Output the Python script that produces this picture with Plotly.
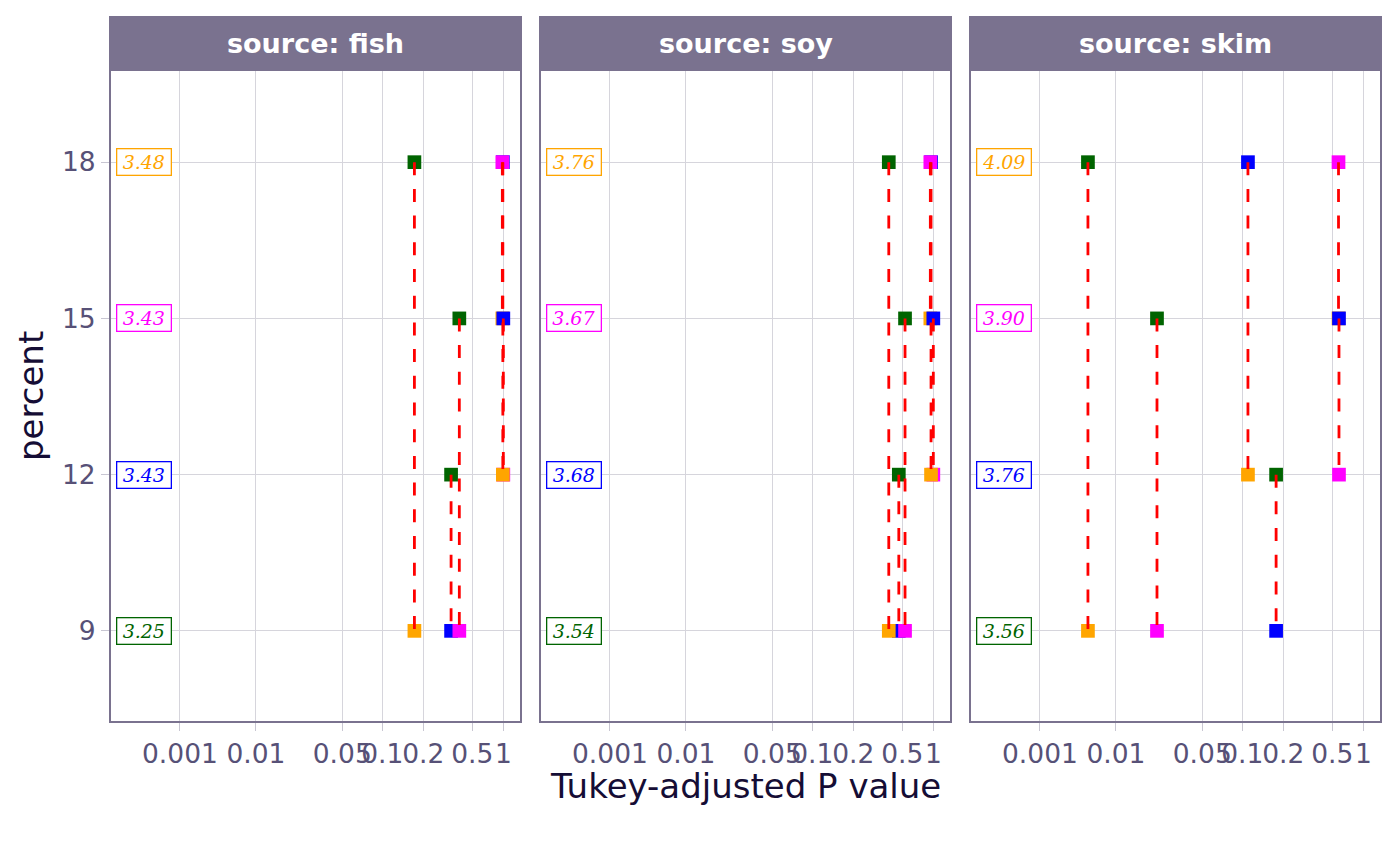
import numpy as np
import plotly.graph_objects as go

# ---------------- data ----------------
SOURCES = ["fish", "soy", "skim"]
PERCENT = [9, 12, 15, 18]
LEVEL_COLORS = ["#006400", "#0000FF", "#FF00FF", "#FFA500"]

EMMEANS_FISH = [3.25, 3.43, 3.43, 3.48]
EMMEANS_SOY = [3.54, 3.68, 3.67, 3.76]
EMMEANS_SKIM = [3.56, 3.76, 3.90, 4.09]

PAIR_FIRST = [9, 9, 9, 12, 12, 15]
PAIR_SECOND = [12, 15, 18, 15, 18, 18]

P_FISH = [0.336, 0.392, 0.172, 1.0, 0.989, 0.978]
P_SOY = [0.468, 0.531, 0.388, 1.0, 0.950, 0.935]
P_SKIM = [0.177, 0.0215, 0.00428, 0.580, 0.110, 0.574]

P_BREAKS = [0.001, 0.01, 0.05, 0.1, 0.2, 0.5, 1]
P_BREAK_LABELS = ["0.001", "0.01", "0.05", "0.1", "0.2", "0.5", "1"]
LABEL_P = 3.4e-4

# P-value scale: -log10(p) -> axis position
SCALE_LOGP = [0, 0.301, 0.699, 1, 1.301, 2, 3, 4]
SCALE_POS = [0, 0.256, 0.661, 1, 1.331, 2.044, 2.672, 3.300]


def p_scale(p):
    p = np.asarray(p, dtype=float)
    return -np.interp(-np.log10(p), SCALE_LOGP, SCALE_POS)


EMMEANS = {"fish": EMMEANS_FISH, "soy": EMMEANS_SOY, "skim": EMMEANS_SKIM}
PVALS = {"fish": P_FISH, "soy": P_SOY, "skim": P_SKIM}
COL = dict(zip(PERCENT, LEVEL_COLORS))

# ---------------- style ----------------
OFF = 8  # page margin of the html body
W, H = 1400 - OFF, 866 - OFF
PANEL_X = [(110 - OFF, 521 - OFF), (540 - OFF, 951 - OFF), (970 - OFF, 1381 - OFF)]
PLOT_TOP, PLOT_BOT, STRIP_TOP = 70 - OFF, 722 - OFF, 17 - OFF
STRIP_COL = "#7A728F"
GRID_COL = "#D6D5DC"
TICK_COL = "#C8C6D2"
TICKFONT = dict(family="DejaVu Sans", size=26.5, color="#575177")
TITLEFONT = dict(family="DejaVu Sans", size=34, color="#150D35")

XRANGE = [-3.250, 0.146]
YRANGE = [7.25, 19.77]

fig = go.Figure()
annotations = []
shapes = []
layout = {}

ydom = [(H - PLOT_BOT) / H, (H - PLOT_TOP) / H]

for k, src in enumerate(SOURCES):
    sfx = "" if k == 0 else str(k + 1)
    xa, ya = "x" + sfx, "y" + sfx
    pv = PVALS[src]
    xs = p_scale(pv)

    # markers: first-level points then second-level points
    mx = list(xs) + list(xs)
    my = PAIR_FIRST + PAIR_SECOND
    mc = [COL[s] for s in PAIR_SECOND] + [COL[f] for f in PAIR_FIRST]
    fig.add_trace(go.Scatter(
        x=mx, y=my, mode="markers", xaxis=xa, yaxis=ya,
        marker=dict(symbol="square", size=13.7, color=mc, line=dict(width=0)),
        hoverinfo="skip", showlegend=False))

    for xv, f, s in zip(xs, PAIR_FIRST, PAIR_SECOND):
        fig.add_trace(go.Scatter(
            x=[xv, xv], y=[s, f], mode="lines", xaxis=xa, yaxis=ya,
            line=dict(color="#FF0000", width=2.8, dash="13px,13.7px"),
            hoverinfo="skip", showlegend=False))

    x0, x1 = PANEL_X[k]
    xdom = [x0 / W, x1 / W]
    layout["xaxis" + sfx] = dict(
        domain=xdom, range=XRANGE, anchor=ya,
        tickvals=list(p_scale(P_BREAKS)), ticktext=P_BREAK_LABELS, tickangle=0,
        ticks="outside", ticklen=8, tickwidth=1.2, tickcolor=TICK_COL,
        showgrid=True, gridcolor=GRID_COL, gridwidth=1.3, zeroline=False,
        showline=False, tickfont=TICKFONT)
    yax = dict(
        domain=ydom, range=YRANGE, anchor=xa, tickvals=PERCENT,
        showgrid=True, gridcolor=GRID_COL, gridwidth=1.3, zeroline=False,
        showline=False, tickfont=TICKFONT)
    if k == 0:
        yax.update(ticks="outside", ticklen=8, tickwidth=1.2, tickcolor=TICK_COL,
                   showticklabels=True)
    else:
        yax.update(ticks="", showticklabels=False)
    layout["yaxis" + sfx] = yax

    # panel border and strip
    shapes.append(dict(type="rect", xref="paper", yref="paper",
                       x0=x0 / W, x1=x1 / W, y0=(H - PLOT_TOP) / H, y1=(H - STRIP_TOP) / H,
                       fillcolor=STRIP_COL, line=dict(color=STRIP_COL, width=2), layer="above"))
    shapes.append(dict(type="rect", xref="paper", yref="paper",
                       x0=x0 / W, x1=x1 / W, y0=(H - PLOT_BOT) / H, y1=(H - STRIP_TOP) / H,
                       fillcolor="rgba(0,0,0,0)", line=dict(color=STRIP_COL, width=2),
                       layer="above"))
    annotations.append(dict(
        text="<b>source: %s</b>" % src, xref="paper", yref="paper",
        x=(x0 + x1) / 2 / W, y=(H - (STRIP_TOP + PLOT_TOP) / 2) / H,
        xanchor="center", yanchor="middle", showarrow=False,
        font=dict(family="DejaVu Sans", size=27, color="white")))

    # estimated mean labels
    lx = float(p_scale(LABEL_P))
    for lev, val in zip(PERCENT, EMMEANS[src]):
        annotations.append(dict(
            text="<i>%.2f</i>" % val, xref=xa, yref=ya, x=lx, y=lev,
            xanchor="center", yanchor="middle", showarrow=False,
            font=dict(family="DejaVu Serif", size=19, color=COL[lev]),
            bgcolor="white", bordercolor=COL[lev], borderwidth=1.3, borderpad=3,
            width=47, height=19))

# axis titles
annotations.append(dict(
    text="Tukey-adjusted P value", xref="paper", yref="paper",
    x=(PANEL_X[0][0] + PANEL_X[2][1]) / 2 / W, y=(H - (786 - OFF)) / H,
    xanchor="center", yanchor="middle", showarrow=False, font=TITLEFONT))
annotations.append(dict(
    text="percent", xref="paper", yref="paper",
    x=(31 - OFF) / W, y=(H - (PLOT_TOP + PLOT_BOT) / 2) / H, textangle=-90,
    xanchor="center", yanchor="middle", showarrow=False, font=TITLEFONT))

fig.update_layout(
    width=W, height=H, margin=dict(l=0, r=0, t=0, b=0),
    plot_bgcolor="white", paper_bgcolor="white", showlegend=False,
    annotations=annotations, shapes=shapes, **layout)

fig.write_html("out.html")
